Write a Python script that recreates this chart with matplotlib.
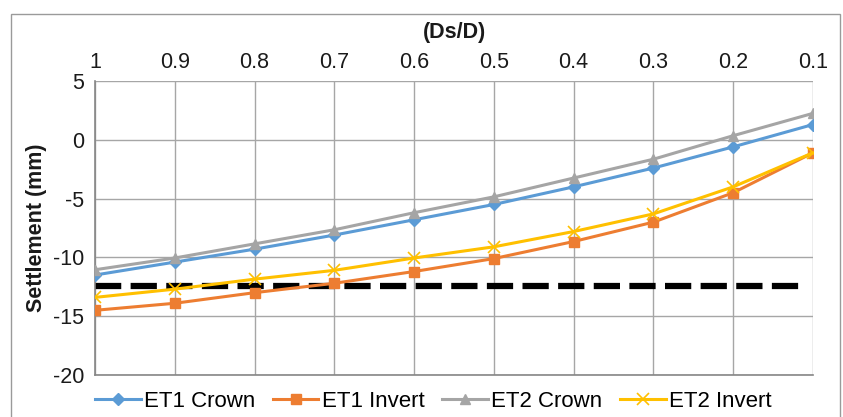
import matplotlib
matplotlib.use("Agg")
import matplotlib.pyplot as plt
from matplotlib.patches import Rectangle

plt.rcParams["font.family"] = ["Liberation Sans", "DejaVu Sans"]
plt.rcParams["axes.unicode_minus"] = False

# --- data ------------------------------------------------------------------
ratio_labels = ["1", "0.9", "0.8", "0.7", "0.6", "0.5", "0.4", "0.3", "0.2", "0.1"]
et1_crown = [-11.5, -10.4, -9.3, -8.1, -6.8, -5.5, -4.0, -2.4, -0.6, 1.3]
et1_invert = [-14.5, -13.9, -13.0, -12.2, -11.2, -10.1, -8.65, -7.0, -4.5, -1.1]
et2_crown = [-11.05, -10.05, -8.85, -7.65, -6.2, -4.85, -3.25, -1.65, 0.35, 2.25]
et2_invert = [-13.4, -12.7, -11.85, -11.1, -10.05, -9.1, -7.8, -6.3, -4.0, -1.1]
limit_value = -12.4

# --- palette ---------------------------------------------------------------
BLUE = "#5b9bd5"
ORANGE = "#ed7d31"
GRAY = "#a5a5a5"
YELLOW = "#ffc000"
GRID = "#a6a6a6"
SPINE = "#868686"
TEXT = "#1a1a1a"
FS = 15.5

fig = plt.figure(figsize=(8.43, 4.17), dpi=100)
ax = fig.add_axes([95 / 843, 1 - 375 / 417, (813 - 95) / 843, (375 - 81) / 417])

xs = list(range(len(ratio_labels)))
ax.plot(xs, et1_crown, color=BLUE, lw=2.2, marker="D", ms=6.5, label="ET1 Crown", zorder=3)
ax.plot(xs, et1_invert, color=ORANGE, lw=2.2, marker="s", ms=7.5, label="ET1 Invert", zorder=3)
ax.plot(xs, et2_crown, color=GRAY, lw=2.2, marker="^", ms=7.5, label="ET2 Crown", zorder=3)
ax.plot(xs, et2_invert, color=YELLOW, lw=2.2, marker="x", ms=8, mew=1.2, label="ET2 Invert", zorder=4)
ax.plot([xs[0], xs[-1] - 0.1], [limit_value, limit_value], color="black", lw=4.5,
        linestyle=(0, (4.2, 1.5)), zorder=2.5)

ax.set_xlim(0, len(ratio_labels) - 1)
ax.set_ylim(-20, 5)
ax.set_yticks([-20, -15, -10, -5, 0, 5])
ax.set_xticks(xs)
ax.set_xticklabels(ratio_labels)
ax.xaxis.tick_top()
ax.tick_params(axis="both", length=0, labelsize=FS, colors=TEXT)
ax.tick_params(axis="x", pad=6)
ax.tick_params(axis="y", pad=8)

ax.grid(True, color=GRID, lw=1)
ax.set_axisbelow(True)
for side in ["top", "right"]:
    ax.spines[side].set_visible(False)
for side in ["left", "bottom"]:
    ax.spines[side].set_color(SPINE)
    ax.spines[side].set_linewidth(1.2)

ax.set_xlabel("(Ds/D)", fontsize=FS, fontweight="bold", labelpad=10, color=TEXT)
ax.xaxis.set_label_position("top")
ax.set_ylabel("Settlement (mm)", fontsize=FS, fontweight="bold", labelpad=4, color=TEXT)

ax.legend(loc="center left", bbox_to_anchor=(0.0, -0.09), ncol=4, frameon=False,
          fontsize=16, handlelength=2.05, handletextpad=0.15, columnspacing=0.8,
          borderaxespad=0, borderpad=0)

# outer chart border
fig.patches.append(Rectangle((11 / 843, -0.05), (840 - 11) / 843, 1 - 14 / 417 + 0.05,
                             transform=fig.transFigure, fill=False, edgecolor="#9a9a9a",
                             lw=1))

fig.savefig("out.png", dpi=100)
